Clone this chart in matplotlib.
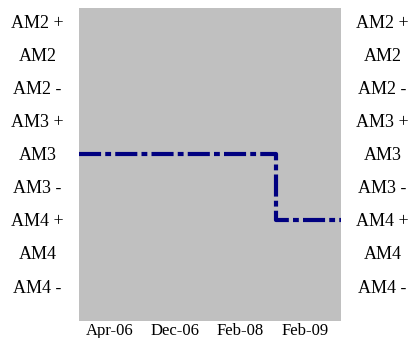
import matplotlib.pyplot as plt

# rating scale, top to bottom
scale = ["AM2 +", "AM2", "AM2 -", "AM3 +", "AM3", "AM3 -", "AM4 +", "AM4", "AM4 -"]
date_labels = ["Apr-06", "Dec-06", "Feb-08", "Feb-09"]

# rating history (x in date-label index units)
hist_x = [-0.47, 2.56, 3.555]
hist_rating = ["AM3", "AM4 +", "AM4 +"]

plt.rcParams['font.family'] = ['Liberation Serif', 'DejaVu Serif']

level = {name: len(scale) - 1 - i for i, name in enumerate(scale)}

fig = plt.figure(figsize=(4.13, 3.38), dpi=100)
ax = fig.add_axes([79 / 413, 1 - 321 / 338, 262 / 413, 313 / 338])
ax.set_facecolor("#C0C0C0")
for s in ax.spines.values():
    s.set_visible(False)

ax.plot(hist_x, [level[r] for r in hist_rating], drawstyle="steps-post",
        color="#000080", lw=3, dashes=(5.3, 1.0, 1.4, 1.0),
        dash_capstyle="butt", solid_joinstyle="miter")

ax.set_xlim(-0.47, 3.555)
ax.set_ylim(-1.06, 8.42)

ax.set_yticks([level[n] for n in scale])
ax.set_yticklabels(scale)
ax.set_xticks(range(len(date_labels)))
ax.set_xticklabels(date_labels)
ax.tick_params(axis="y", length=0, pad=29.9, labelsize=13, labelright=True)
ax.tick_params(axis="x", length=0, pad=1.2, labelsize=12)
for t in ax.yaxis.get_major_ticks():
    t.label1.set_ha("center")
    t.label2.set_ha("center")

fig.savefig("out.png", dpi=100)
plt.close(fig)
